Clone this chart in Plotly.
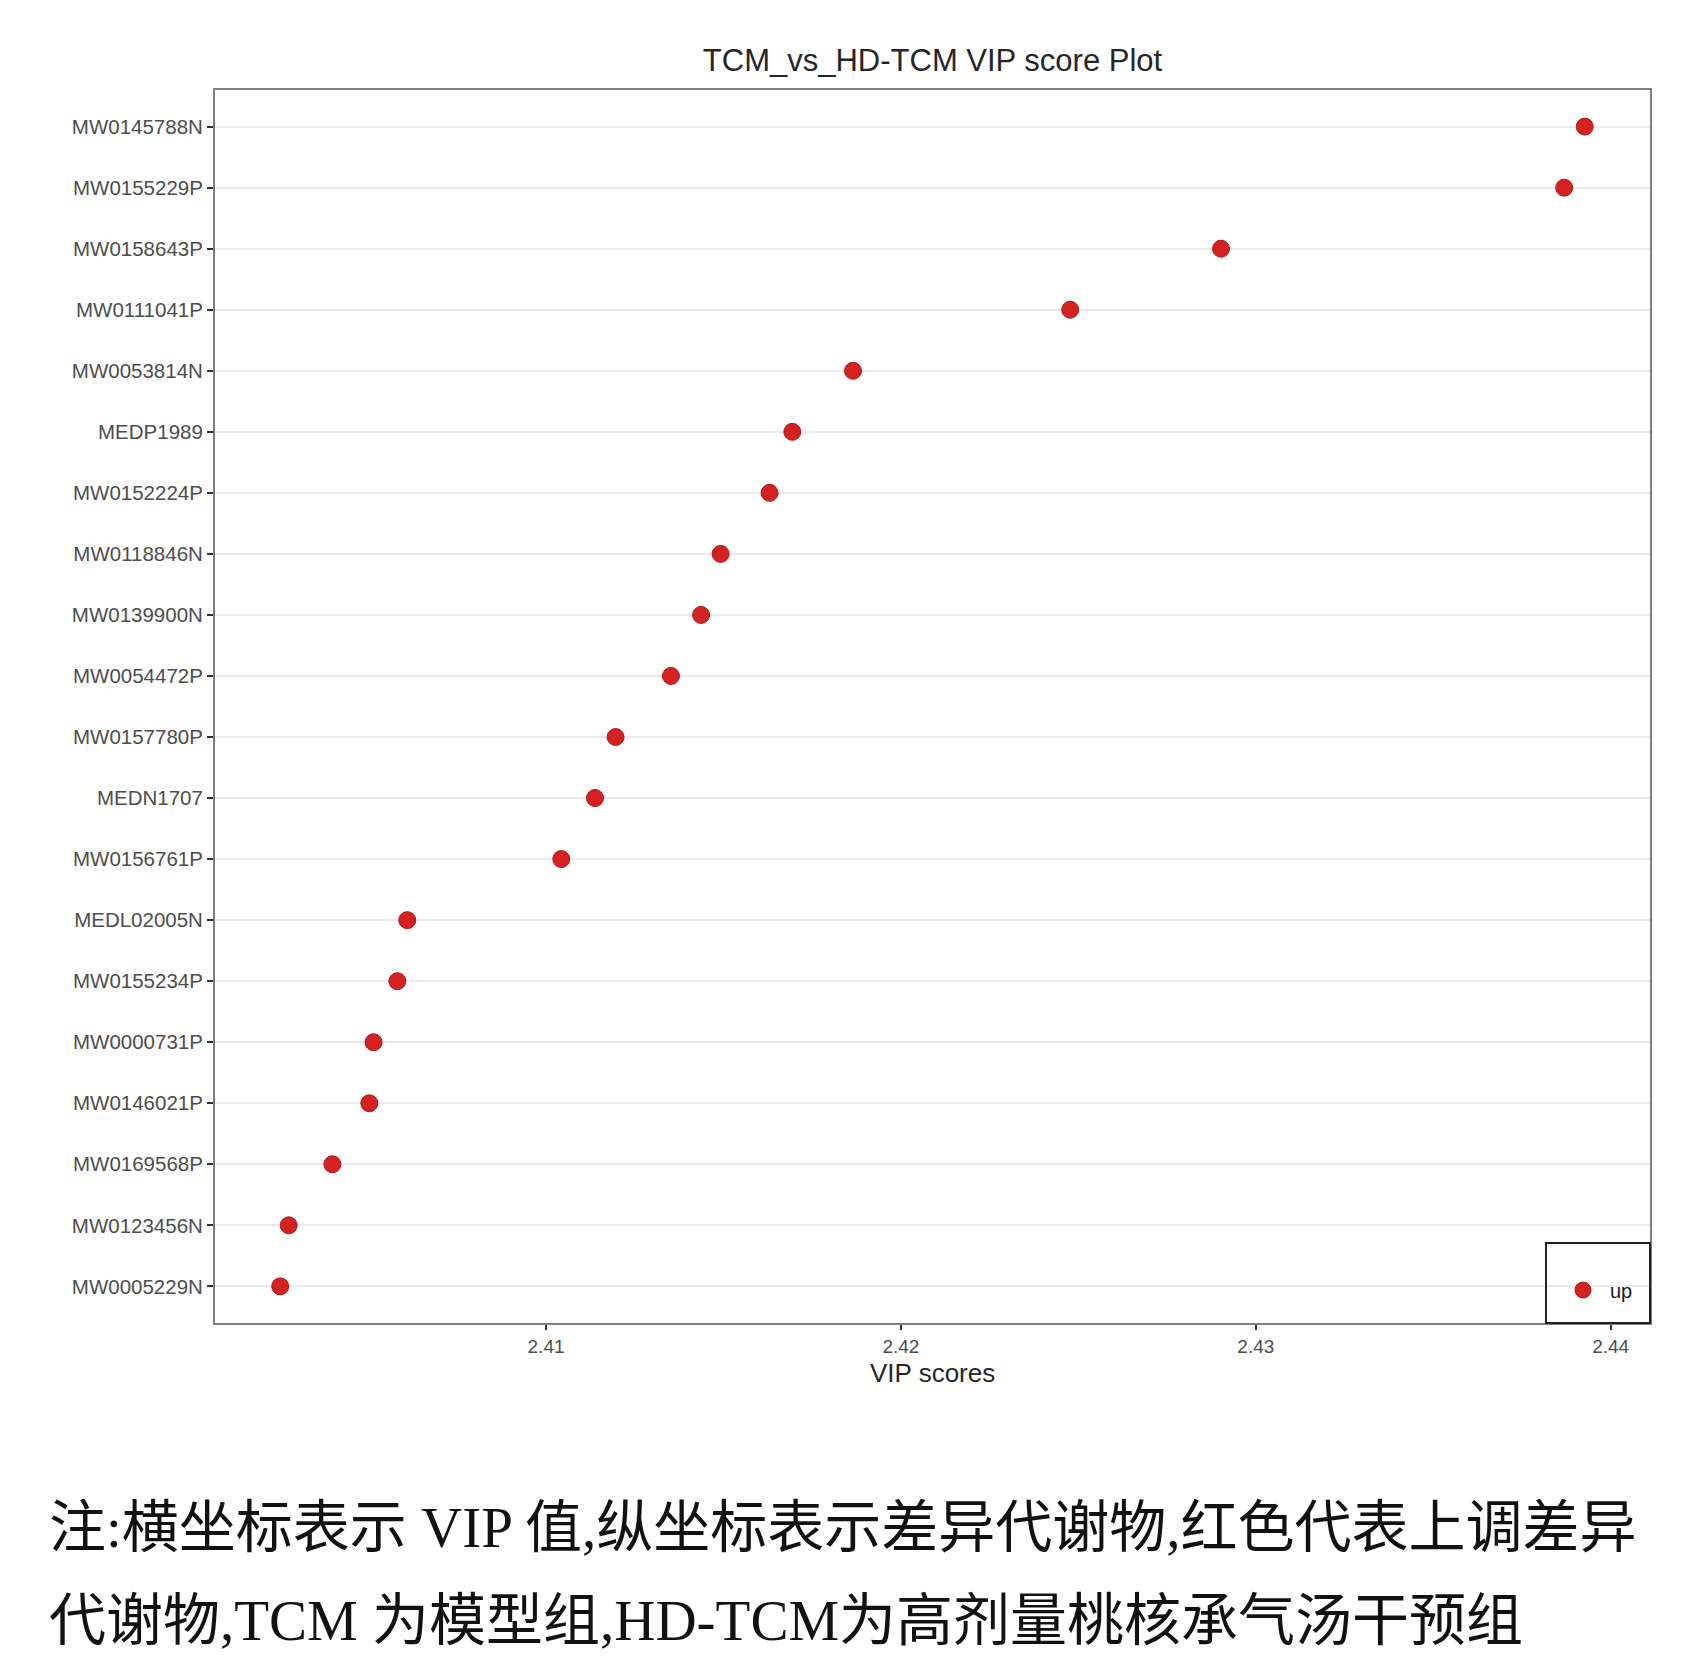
import plotly.graph_objects as go

# VIP scores, top to bottom as shown
metabolites = [
    "MW0145788N", "MW0155229P", "MW0158643P", "MW0111041P", "MW0053814N",
    "MEDP1989", "MW0152224P", "MW0118846N", "MW0139900N", "MW0054472P",
    "MW0157780P", "MEDN1707", "MW0156761P", "MEDL02005N", "MW0155234P",
    "MW0000731P", "MW0146021P", "MW0169568P", "MW0123456N", "MW0005229N",
]
vip_scores = [
    2.43927, 2.43869, 2.42902, 2.42477, 2.41865,
    2.41694, 2.41630, 2.41492, 2.41437, 2.41352,
    2.41196, 2.41138, 2.41043, 2.40609, 2.40581,
    2.40514, 2.40502, 2.40398, 2.40275, 2.40251,
]
x_ticks = [2.41, 2.42, 2.43, 2.44]

caption_1 = "注:横坐标表示 VIP 值,纵坐标表示差异代谢物,红色代表上调差异"
caption_2 = "代谢物,TCM 为模型组,HD-TCM为高剂量桃核承气汤干预组"

W, H = 1703, 1657
L, R, T, B = 207, 61, 82, 342
PW, PH = W - L - R, H - T - B

fig = go.Figure()
fig.add_trace(go.Scatter(
    x=vip_scores, y=metabolites, mode="markers", name="up",
    marker=dict(size=17, color="#d42222", line=dict(color="#b01818", width=1)),
))

lo, hi = min(vip_scores), max(vip_scores)
pad = (hi - lo) * 0.05

fig.update_layout(
    width=W, height=H,
    margin=dict(l=L, r=R, t=T, b=B),
    paper_bgcolor="white", plot_bgcolor="white",
    font=dict(family="Liberation Sans, Arial, sans-serif", color="#4d4d4d"),
    title=dict(text="TCM_vs_HD-TCM VIP score Plot", x=0.5, xref="paper",
               y=1 - 52 / H, yanchor="middle",
               font=dict(size=31, color="#262626")),
    showlegend=True,
    legend=dict(x=(1548 - L) / PW, y=(1315 - 1282) / PH, xanchor="left", yanchor="middle",
                itemwidth=44, bgcolor="rgba(0,0,0,0)", borderwidth=0,
                font=dict(size=20, color="#1a1a1a")),
    xaxis=dict(range=[lo - pad, hi + pad], tickvals=x_ticks, tickformat=".2f",
               showgrid=False, zeroline=False,
               showline=True, linecolor="#7f7f7f", linewidth=2, mirror=True,
               ticks="outside", ticklen=5, tickcolor="#333333", tickwidth=2,
               tickfont=dict(size=19, color="#4d4d4d")),
    yaxis=dict(categoryorder="array", categoryarray=metabolites,
               range=[len(metabolites) - 0.4, -0.6],
               showgrid=True, gridcolor="#ebebeb", gridwidth=1.5, zeroline=False,
               showline=True, linecolor="#7f7f7f", linewidth=2, mirror=True,
               ticks="outside", ticklen=6, tickcolor="#333333", tickwidth=2,
               tickfont=dict(size=20.5, color="#4d4d4d")),
)

# legend box (ggplot legend.background with border)
fig.add_shape(type="rect", xref="paper", yref="paper",
              x0=(1538 - L) / PW, x1=1.0, y0=0.0, y1=80 / PH,
              line=dict(color="#222222", width=2), fillcolor="rgba(0,0,0,0)")

fig.add_annotation(text="VIP scores", xref="paper", yref="paper", x=0.5, y=0,
                   yanchor="middle", yshift=-50, showarrow=False,
                   font=dict(size=26, color="#262626"))

cap_font = dict(family="Liberation Serif, Noto Sans CJK SC, serif", size=57, color="#111111")
for txt, yc in [(caption_1, 1519), (caption_2, 1612)]:
    fig.add_annotation(text=txt, xref="paper", yref="paper",
                       x=(39 - L) / PW, y=(H - B - yc) / PH,
                       xanchor="left", yanchor="middle", showarrow=False, font=cap_font)

fig.write_html("out.html")
